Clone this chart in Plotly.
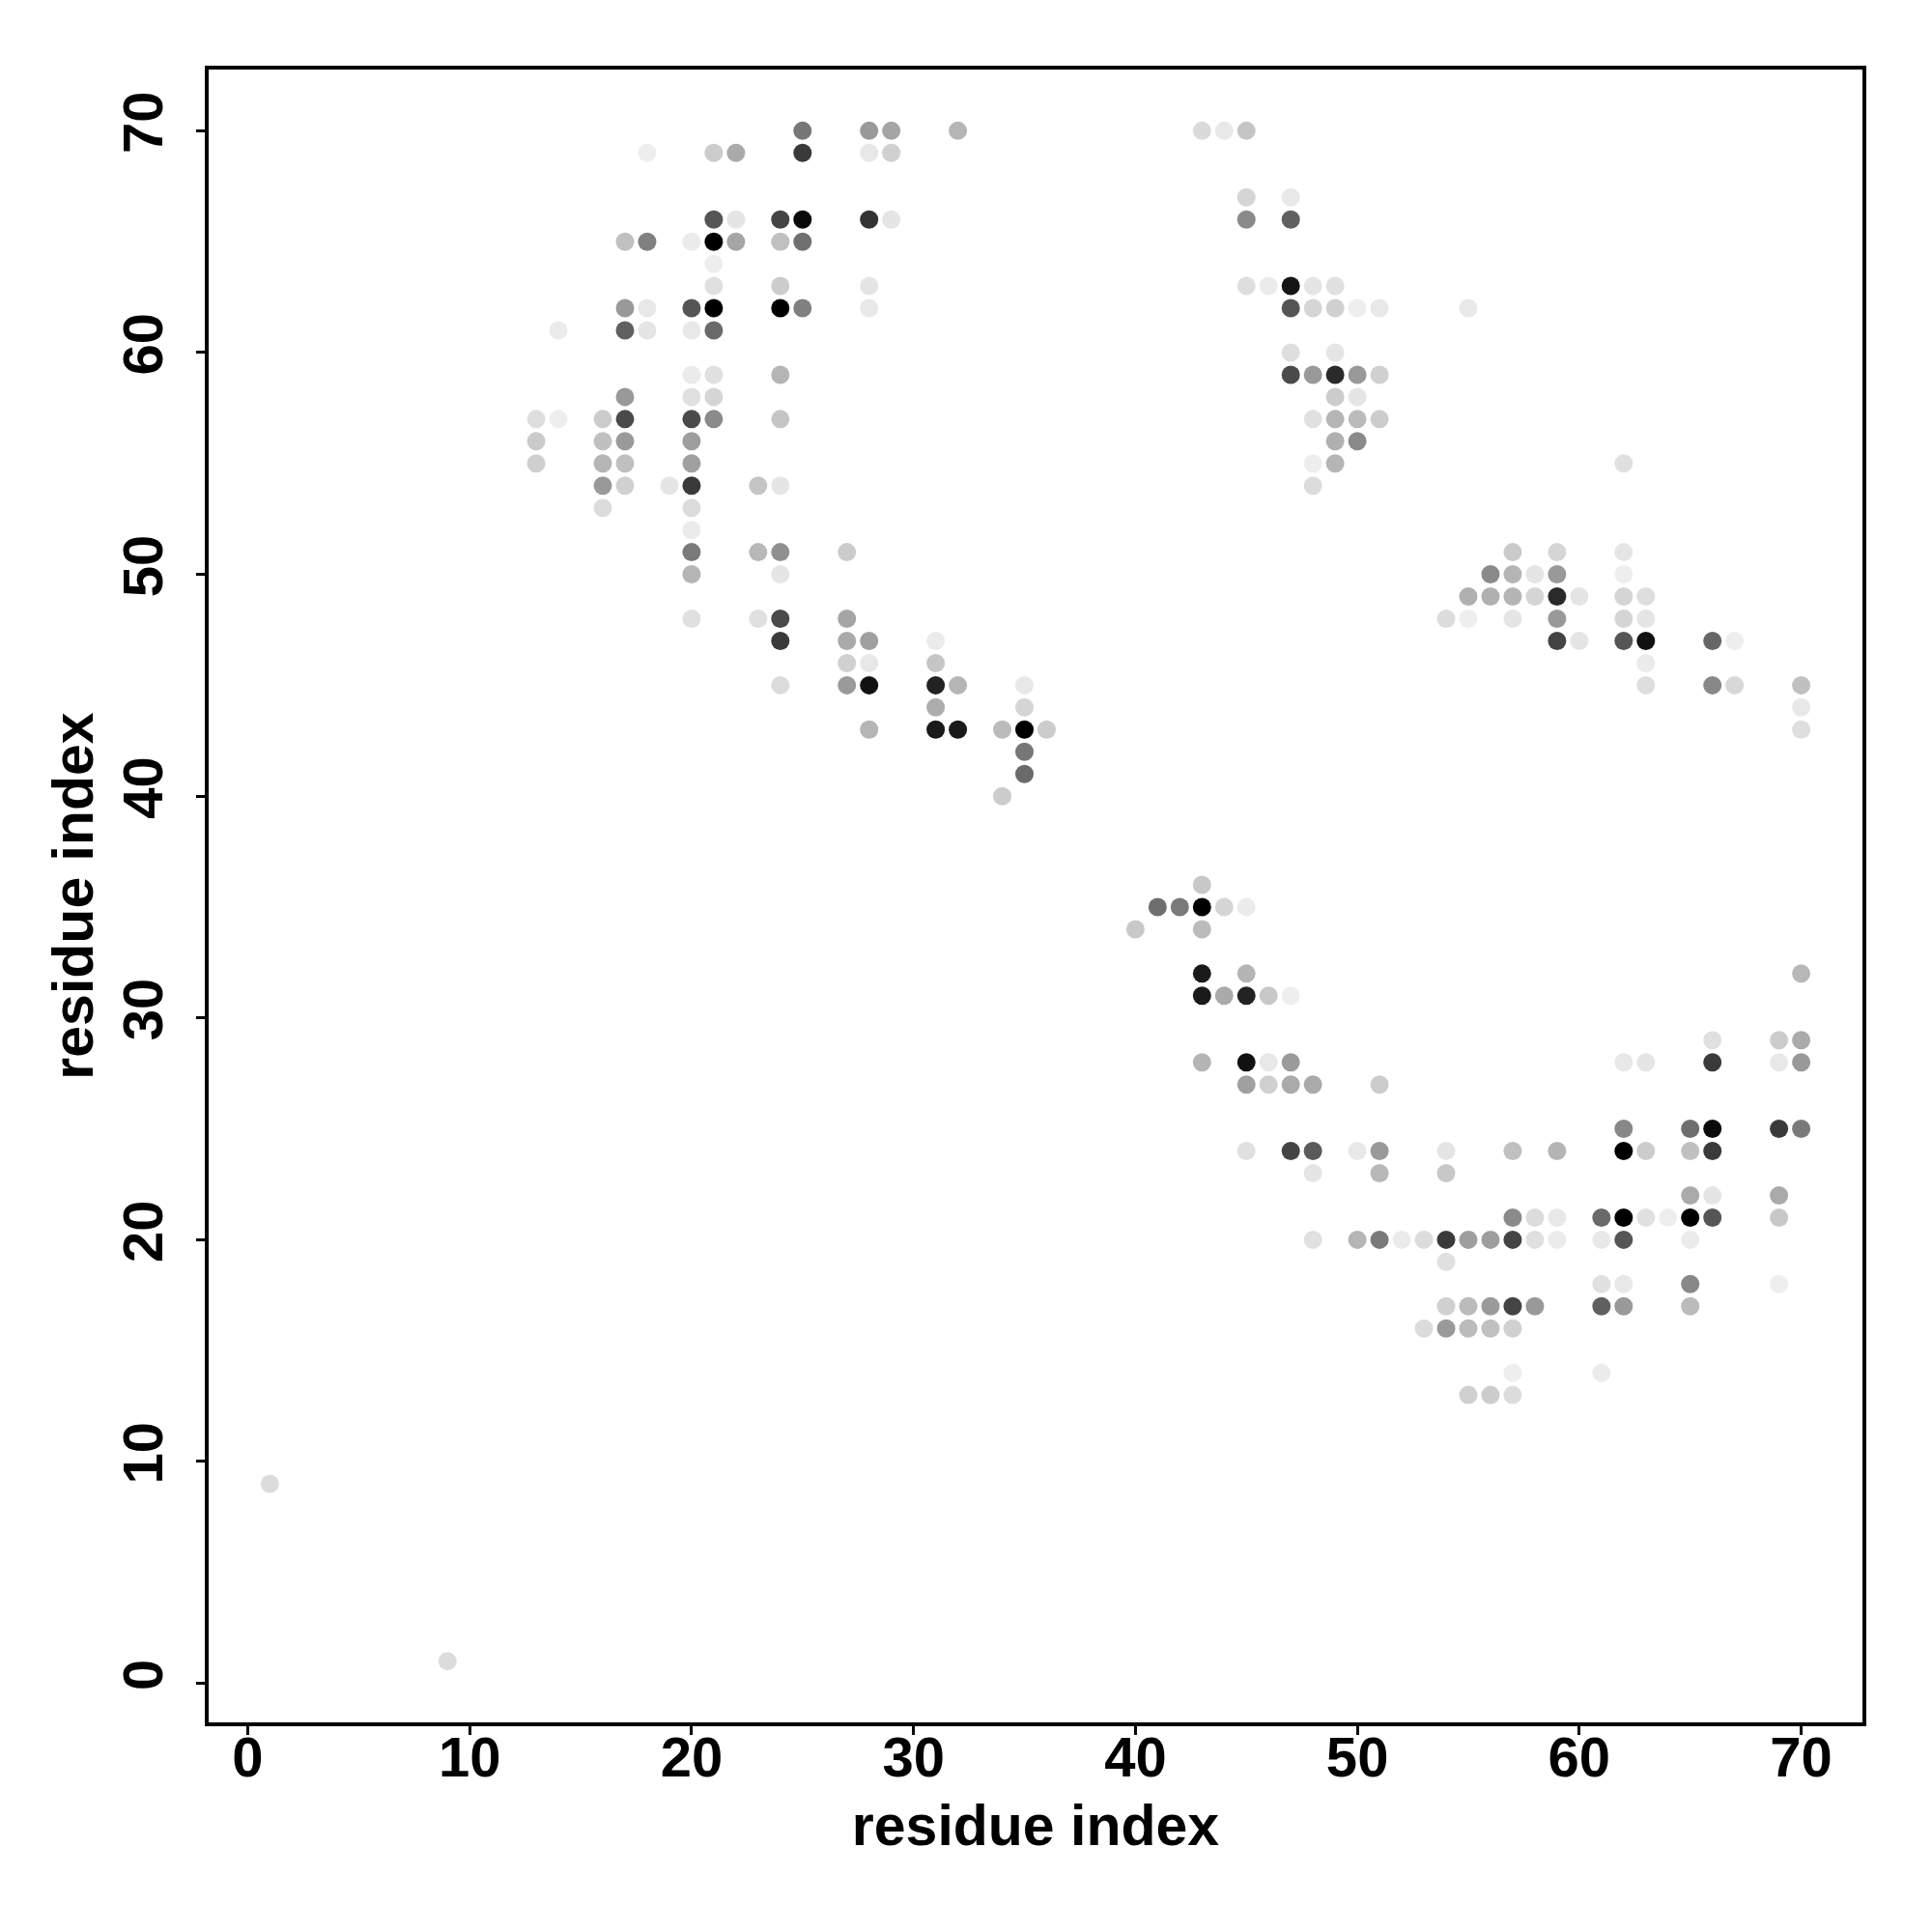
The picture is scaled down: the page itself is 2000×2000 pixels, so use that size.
import plotly.graph_objects as go

# Contact map: residue i (x), residue j (y), grey shade of the dot (0 = black, 255 = white)
res_x = [
    25, 28, 29, 32,
    18, 21, 22, 25, 28, 29,
    21, 22, 24, 25, 28, 29,
    17, 18, 20, 21, 22, 24, 25,
    21,
    21, 24, 28,
    17, 18, 20, 21, 24, 25, 28,
    14, 17, 18, 20, 21,
    20, 21, 24,
    17, 20, 21,
    13, 14, 16, 17, 20, 21, 24,
    13, 16, 17, 20,
    13, 16, 17, 20,
    16, 17, 19, 20, 23, 24,
    16, 20,
    20,
    20, 23, 24, 27,
    20, 24,
    20, 23, 24, 27,
    24, 27, 28, 31,
    27, 28, 31,
    24, 27, 28, 31, 32, 35,
    31, 35,
    28, 31, 32, 34, 35, 36,
    35, 35, 34,
    # upper middle block
    43, 44, 45,
    45, 47,
    45, 47,
    45, 46, 47, 48, 49,
    47, 48, 49, 50, 51, 55,
    47, 49,
    47, 48, 49, 50, 51,
    49, 50,
    48, 49, 50, 51,
    49, 50,
    48, 49,
    48,
    # middle block
    43,
    41, 42, 43, 44, 45,
    40, 43,
    43, 45,
    43, 44, 45, 46, 47,
    43, 45, 46, 47,
    45, 46, 47, 48, 51,
    45, 47, 48, 50, 51,
    48, 51,
    48, 50, 51,
    # right upper block
    62,
    57, 59, 62,
    56, 57, 58, 59, 62,
    55, 56, 57, 58, 59, 60, 62, 63,
    54, 55, 57, 59, 62, 63,
    59, 60, 62, 63, 66, 67,
    63,
    63, 66, 67, 70,
    70, 70,
    # right lower block
    70,
    66, 69, 70,
    62, 63, 66, 69, 70,
    62, 65, 66, 69, 70,
    54, 57, 59, 62, 63, 65, 66,
    54,
    65, 66, 69,
    57, 58, 59, 61, 62, 63, 64, 65, 66, 69,
    52, 53, 54, 55, 56, 57, 58, 59, 61, 62, 65,
    54,
    61, 62, 65, 69,
    54, 55, 56, 57, 58, 61, 62, 65,
    53, 54, 55, 56, 57,
    57, 61,
    55, 56, 57,
    # isolated
    1, 9,
]

res_y = [
    70, 70, 70, 70,
    69, 69, 69, 69, 69, 69,
    66, 66, 66, 66, 66, 66,
    65, 65, 65, 65, 65, 65, 65,
    64,
    63, 63, 63,
    62, 62, 62, 62, 62, 62, 62,
    61, 61, 61, 61, 61,
    59, 59, 59,
    58, 58, 58,
    57, 57, 57, 57, 57, 57, 57,
    56, 56, 56, 56,
    55, 55, 55, 55,
    54, 54, 54, 54, 54, 54,
    53, 53,
    52,
    51, 51, 51, 51,
    50, 50,
    48, 48, 48, 48,
    47, 47, 47, 47,
    46, 46, 46,
    45, 45, 45, 45, 45, 45,
    44, 44,
    43, 43, 43, 43, 43, 43,
    42, 41, 40,
    # upper middle block
    70, 70, 70,
    67, 67,
    66, 66,
    63, 63, 63, 63, 63,
    62, 62, 62, 62, 62, 62,
    60, 60,
    59, 59, 59, 59, 59,
    58, 58,
    57, 57, 57, 57,
    56, 56,
    55, 55,
    54,
    # middle block
    36,
    35, 35, 35, 35, 35,
    34, 34,
    32, 32,
    31, 31, 31, 31, 31,
    28, 28, 28, 28,
    27, 27, 27, 27, 27,
    24, 24, 24, 24, 24,
    23, 23,
    20, 20, 20,
    # right upper block
    55,
    51, 51, 51,
    50, 50, 50, 50, 50,
    49, 49, 49, 49, 49, 49, 49, 49,
    48, 48, 48, 48, 48, 48,
    47, 47, 47, 47, 47, 47,
    46,
    45, 45, 45, 45,
    44, 43,
    # right lower block
    32,
    29, 29, 29,
    28, 28, 28, 28, 28,
    25, 25, 25, 25, 25,
    24, 24, 24, 24, 24, 24, 24,
    23,
    22, 22, 22,
    21, 21, 21, 21, 21, 21, 21, 21, 21, 21,
    20, 20, 20, 20, 20, 20, 20, 20, 20, 20, 20,
    19,
    18, 18, 18, 18,
    17, 17, 17, 17, 17, 17, 17, 17,
    16, 16, 16, 16, 16,
    14, 14,
    13, 13, 13,
    # isolated
    9, 1,
]

shade = [
    0x77, 0x99, 0xa5, 0xb5,
    0xee, 0xcc, 0xaa, 0x3a, 0xe8, 0xd0,
    0x55, 0xe5, 0x44, 0x0a, 0x33, 0xe5,
    0xc0, 0x80, 0xeb, 0x00, 0xa5, 0xc0, 0x70,
    0xee,
    0xe0, 0xcc, 0xe5,
    0x99, 0xe8, 0x55, 0x00, 0x00, 0x80, 0xe8,
    0xeb, 0x60, 0xe5, 0xe8, 0x6a,
    0xeb, 0xe0, 0xb5,
    0x99, 0xe0, 0xd5,
    0xde, 0xee, 0xcc, 0x4a, 0x4a, 0x8a, 0xc5,
    0xca, 0xc0, 0x9a, 0x9e,
    0xcf, 0xb5, 0xc0, 0xa0,
    0x99, 0xd0, 0xe5, 0x3a, 0xc5, 0xe5,
    0xdc, 0xdc,
    0xeb,
    0x7a, 0xb8, 0x90, 0xcc,
    0xb5, 0xe5,
    0xe0, 0xe0, 0x4a, 0xa5,
    0x3a, 0xaa, 0xa0, 0xeb,
    0xd0, 0xe8, 0xc5,
    0xdc, 0x9a, 0x11, 0x22, 0xb5, 0xe8,
    0xad, 0xd5,
    0xb5, 0x1a, 0x1a, 0xbb, 0x00, 0xcc,
    0x77, 0x6a, 0xcc,
    # upper middle block
    0xda, 0xe8, 0xc5,
    0xd5, 0xe8,
    0x8a, 0x60,
    0xde, 0xeb, 0x15, 0xe5, 0xe0,
    0x55, 0xd5, 0xd0, 0xee, 0xe8, 0xe8,
    0xde, 0xe5,
    0x4a, 0x99, 0x2a, 0x99, 0xd0,
    0xcc, 0xe5,
    0xe0, 0xb5, 0xbb, 0xcc,
    0xb0, 0x8a,
    0xee, 0xb5,
    0xdc,
    # middle block
    0xc8,
    0x6e, 0x7a, 0x00, 0xd5, 0xeb,
    0xc8, 0xbb,
    0x1a, 0xb5,
    0x1a, 0xaa, 0x22, 0xc8, 0xee,
    0xb5, 0x11, 0xe8, 0x9a,
    0xa0, 0xd0, 0xaa, 0xaa, 0xcc,
    0xe0, 0x44, 0x5a, 0xe8, 0x99,
    0xe5, 0xb8,
    0xe0, 0xb5, 0x7a,
    # right upper block
    0xe0,
    0xca, 0xd5, 0xe5,
    0x8a, 0xb5, 0xe5, 0x99, 0xee,
    0xb0, 0xb0, 0xb5, 0xd5, 0x2a, 0xe5, 0xd5, 0xde,
    0xdc, 0xee, 0xe5, 0x99, 0xd5, 0xe5,
    0x44, 0xe5, 0x55, 0x11, 0x66, 0xee,
    0xeb,
    0xde, 0x88, 0xd8, 0xc0,
    0xe8, 0xde,
    # right lower block
    0xb8,
    0xe0, 0xcc, 0xaa,
    0xe8, 0xe5, 0x3a, 0xe8, 0x99,
    0x88, 0x6e, 0x0a, 0x3a, 0x7a,
    0xe5, 0xc0, 0xb5, 0x00, 0xcc, 0xc0, 0x3a,
    0xc8,
    0xaa, 0xe5, 0xaa,
    0x8a, 0xdc, 0xe8, 0x6a, 0x00, 0xe0, 0xee, 0x00, 0x55, 0xc8,
    0xeb, 0xdc, 0x3a, 0x9e, 0x9e, 0x44, 0xe0, 0xeb, 0xe8, 0x55, 0xeb,
    0xe0,
    0xe0, 0xe8, 0x88, 0xee,
    0xd0, 0xbb, 0x9a, 0x44, 0x99, 0x60, 0x99, 0xbb,
    0xdc, 0x99, 0xbb, 0xc0, 0xd0,
    0xee, 0xeb,
    0xd0, 0xcc, 0xdc,
    # isolated
    0xdc, 0xdc,
]

tick_vals = [0, 10, 20, 30, 40, 50, 60, 70]
axis_title = "residue index"

font_family = "Liberation Sans, Arial, Helvetica, sans-serif"

fig = go.Figure(
    go.Scatter(
        x=res_x,
        y=res_y,
        mode="markers",
        marker=dict(
            size=19,
            color=shade,
            cmin=0,
            cmax=255,
            colorscale=[[0, "#000000"], [1, "#ffffff"]],
            showscale=False,
            line=dict(width=0),
        ),
        hoverinfo="x+y",
    )
)

axis_common = dict(
    range=[-1.76, 72.76],
    tickmode="array",
    tickvals=tick_vals,
    ticktext=[str(v) for v in tick_vals],
    ticks="outside",
    ticklen=9,
    tickwidth=3,
    tickcolor="black",
    showline=True,
    linewidth=3.5,
    linecolor="black",
    mirror=True,
    showgrid=False,
    zeroline=False,
    automargin=False,
    tickfont=dict(family=font_family, size=58, color="black", weight="bold"),
)

fig.update_layout(
    width=2000,
    height=2000,
    margin=dict(l=208, r=80, t=64, b=225, pad=0),
    plot_bgcolor="white",
    paper_bgcolor="white",
    showlegend=False,
    xaxis=dict(
        **axis_common,
        ticklabelstandoff=-26,
        title=dict(text=axis_title, standoff=19,
                   font=dict(family=font_family, size=59, color="black", weight="bold")),
    ),
    yaxis=dict(
        **axis_common,
        tickangle=-90,
        ticklabelstandoff=12,
        title=dict(text=axis_title, standoff=0,
                   font=dict(family=font_family, size=59, color="black", weight="bold")),
    ),
)

fig.write_html("out.html")
